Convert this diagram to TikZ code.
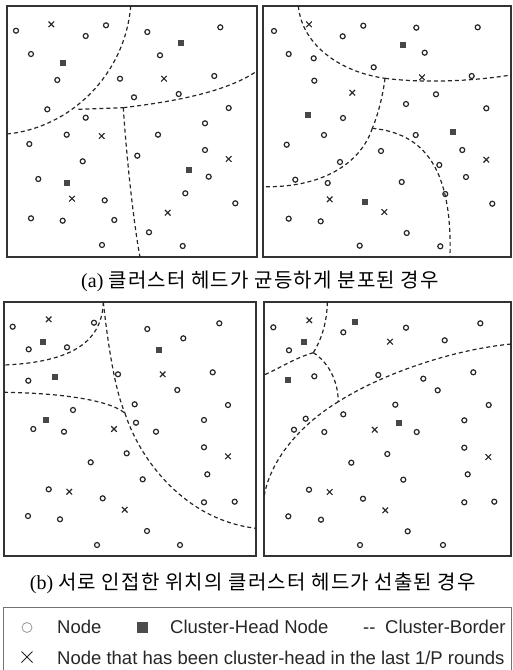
\documentclass[tikz,border=0pt]{standalone}
\usepackage{fontspec}
\setmainfont{Liberation Serif}
\setsansfont{Liberation Sans}
\newfontfamily\krfont[LetterSpace=6]{Noto Sans CJK KR}
\begin{document}
\begin{tikzpicture}[x=1pt,y=-1pt,
  panel/.style={draw=black!80,line width=1.4pt},
  dotst/.style={draw=black!85,line width=1.2pt},
  crossst/.style={draw=black!85,line width=1.1pt},
  headst/.style={fill=black!72},
  border/.style={draw=black!85,line width=1.2pt,dash pattern=on 4pt off 3pt},
  capst/.style={font=\fontsize{20}{23}\selectfont},
  legst/.style={font=\sffamily\fontsize{18.5}{21}\selectfont,anchor=base west,inner sep=0pt,text=black!85}]
\useasboundingbox (0,0) rectangle (512,670);
\newcommand{\mydots}[1]{\foreach \px/\py in {#1} \draw[dotst] (\px,\py) circle[radius=2.5];}
\newcommand{\mycrosses}[1]{\foreach \px/\py in {#1} {\draw[crossst] (\px-2.8,\py-2.8) -- (\px+2.8,\py+2.8) (\px-2.8,\py+2.8) -- (\px+2.8,\py-2.8);}}
\newcommand{\myheads}[1]{\foreach \px/\py in {#1} \fill[headst] (\px-2.9,\py-2.9) rectangle (\px+2.9,\py+2.9);}
% ---------- panels ----------
\draw[panel] (7,6) rectangle (257,257);
\draw[panel] (263,6) rectangle (511,257);
\draw[panel] (4,302) rectangle (256,556);
\draw[panel] (264,302) rectangle (511,556);
% ---------- top-left ----------
\mydots{16/30.7,106/25.3,85.7/36,147.3/32,220.3/27.3,31/54,160/55.3,57.3/80,120/78.7,214.3/76,134/97.3,178.7/94,47.3/109.3,228.7/108,85.7/117.7,205/123.3,66.7/134.7,158/134.7,29.3/144,137.3/155.7,205/150,82.7/161.3,38.3/179,208.7/176.7,104.7/200.3,185.3/193.3,235.3/203.3,31/218.3,62.7/220.7,114.3/220,149/232.3,102/245,182.7/246}
\mycrosses{51.3/24.3,164/78.7,101.7/136,228.7/159,72/198.7,167.7/212.7}
\myheads{181.3/43.3,63.3/62.7,188.7/169.7,66.7/182.7}
\coordinate (a1) at (130.7,6);
\coordinate (a2) at (7,134);
\coordinate (a3) at (78.3,109.3);
\coordinate (a4) at (123.3,107.7);
\coordinate (a5) at (257,71);
\coordinate (a6) at (140,257);
\draw[border] (a1) .. controls (125,75) and (70,128) .. (a2);
\draw[border] (a3) -- (a4);
\draw[border] (a4) .. controls (170,102) and (225,93) .. (a5);
\draw[border] (a4) .. controls (126,150) and (133,220) .. (a6);
% ---------- top-right ----------
\mydots{274/31,363.3/25.7,342.7/36.3,416.3/27.7,477.7/27.3,288.7/54,313.7/58.3,424.7/52.7,373.7/67.3,314.3/80.7,471.7/76,436/94.3,406/104,486.3/108.3,343/118,324/135,415.7/135,286.7/144.7,381/151,462.3/150,340/162,439.3/165,295.3/179.7,327.7/183,466/177,401.7/182,445.3/194,492.3/203.7,288.7/218.7,320.7/221.3,406.7/233,359.7/245.7,440.3/246.3}
\mycrosses{309/24.3,352.3/92.7,422/77.3,486.3/159.7,329.7/199.3,384.3/212}
\myheads{402.7/45.3,307.7/114.7,452.7/132.3,365/202.3}
\coordinate (b1) at (298.3,6);
\coordinate (b2) at (385,78.3);
\coordinate (b3) at (511,75);
\coordinate (b4) at (372.3,128.3);
\coordinate (b5) at (263,186.7);
\coordinate (b6) at (450,257);
\draw[border] (b1) .. controls (302,45) and (340,72) .. (b2);
\draw[border] (b2) .. controls (430,84) and (480,80) .. (b3);
\draw[border] (b2) .. controls (383,95) and (378,115) .. (b4);
\draw[border] (b4) .. controls (360,165) and (320,188) .. (b5);
\draw[border] (b4) .. controls (432,134) and (452,180) .. (b6);
% ---------- bottom-left ----------
\mydots{12.7/326.7,94/322.7,147.3/329,219.3/323.3,183.3/338.3,28.7/349.3,67/347.3,28.3/380.7,118/374.3,212.7/372.3,177.3/390,134.7/404.3,228/405,73/410,136/422.7,204/420,33.3/429,64/431.7,156/431.7,126.7/453.3,204/447.3,90.7/462.3,142.7/479.3,207.3/474.3,48.7/489.3,102.7/498.3,204/502.3,234.7/501.7,28/516,60/519.3,147/531,97/545,180/545}
\mycrosses{48.7/319.3,162.7/374.3,114/429,228/456.3,69.3/491.7,124.7/509.7}
\myheads{43.3/341.7,159.3/350,55/376.7,46/419.7}
\coordinate (c1) at (103.3,302);
\coordinate (c2) at (4,365);
\coordinate (c3) at (125,413.3);
\coordinate (c4) at (256,528.3);
\coordinate (c5) at (4,392.3);
\draw[border] (c1) .. controls (102,340) and (75,362) .. (c2);
\draw[border] (c1) .. controls (108,345) and (115,390) .. (c3);
\draw[border] (c3) .. controls (140,460) and (185,520) .. (c4);
\draw[border] (c5) .. controls (60,393) and (110,400) .. (c3);
% ---------- bottom-right ----------
\mydots{273.3/327.3,343.3/332.3,406/327.7,480.3/323.3,444.7/340.3,289/350.3,314.3/376.3,378.3/375,423.3/378.7,473.3/372.3,437.7/390.3,395.3/404.7,488.7/405,343.3/414.3,305.7/418.7,294/429.7,324.3/432,416.7/432,464.3/420.3,387.3/454,464.3/447.7,351.3/462.7,467.7/474.3,403.3/479.7,309/489.7,363/498.7,464.3/502.3,494.3/501.7,288.3/516.3,321/519.7,407.7/531.3,360/545,443/545}
\mycrosses{309.3/320.3,390/341.7,374.7/429.7,488.3/457,329.7/492,385.3/510.3}
\myheads{355/321.7,304.3/342.3,287.7/380.3,399/422.7}
\coordinate (d1) at (327.3,302);
\coordinate (d2) at (313.3,352.7);
\coordinate (d3) at (264,375);
\coordinate (d4) at (338.3,401.7);
\coordinate (d5) at (511,344);
\coordinate (d6) at (264,497);
\draw[border] (d1) .. controls (327,325) and (320,342) .. (d2);
\draw[border] (d2) .. controls (295,358) and (280,368) .. (d3);
\draw[border] (d2) .. controls (328,362) and (338,380) .. (d4);
\draw[border] (d5) .. controls (450,350) and (380,375) .. (d4);
\draw[border] (d4) .. controls (300,425) and (270,460) .. (d6);
% ---------- captions ----------
\node[capst] (capa) at (260,281) {(a) {\krfont 클러스터 헤드가 균등하게 분포된 경우}};
\node[capst] (capb) at (253,583) {(b) {\krfont 서로 인접한 위치의 클러스터 헤드가 선출된 경우}};
% ---------- legend ----------
\draw[draw=black!55,line width=1pt] (3.5,672) -- (3.5,607) -- (511,607) -- (511,672);
\draw[draw=black!40,line width=0.8pt] (27,627.5) circle[radius=5];
\fill[black!70] (136.5,622) rectangle (147.5,633);
\draw[draw=black!85,line width=1pt] (21.5,651.5) -- (32.5,662.5) (21.5,662.5) -- (32.5,651.5);
\node[legst] (l1) at (57,633) {Node};
\node[legst] (l2) at (170,633) {Cluster-Head Node};
\node[legst] (l3) at (363,633) {-{}-};
\node[legst] (l4) at (385,633) {Cluster-Border};
\node[legst] (l5) at (57,664) {Node that has been cluster-head in the last 1/P rounds};
\end{tikzpicture}
\end{document}
